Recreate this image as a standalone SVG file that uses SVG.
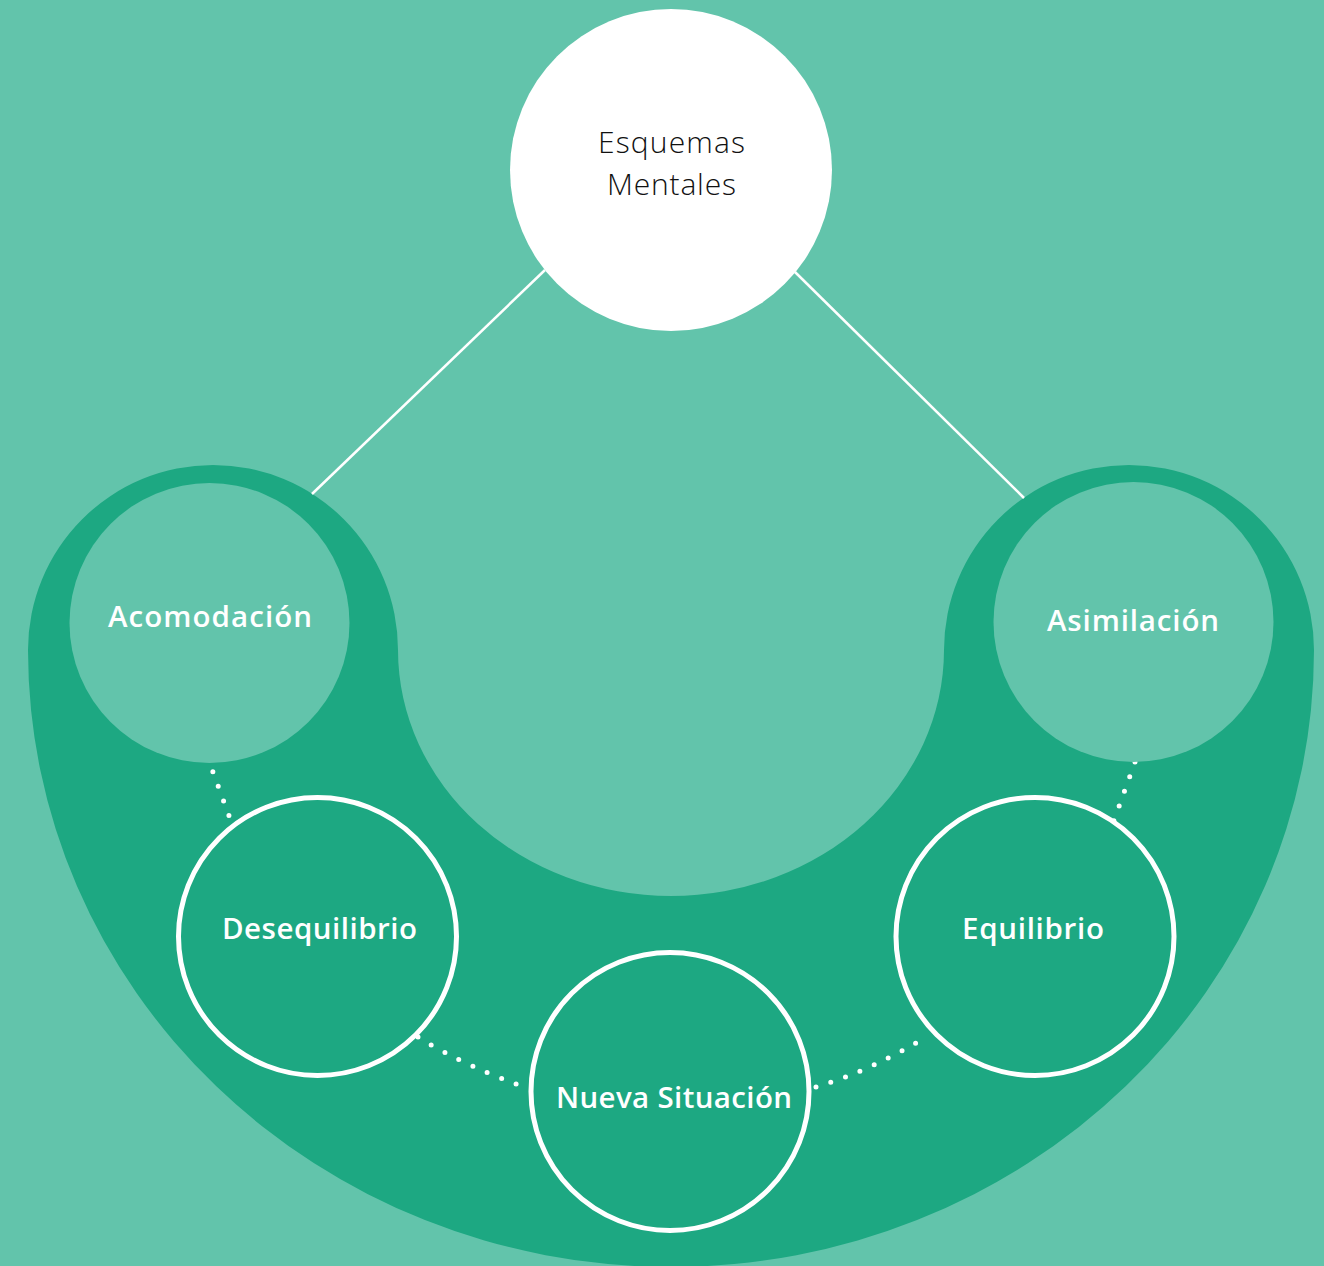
<svg xmlns="http://www.w3.org/2000/svg" width="1324" height="1266" viewBox="0 0 1324 1266">
  <style>
    .bg { fill: #62C4AB; }
    .band { fill: #1DA882; }
    .light { fill: #62C4AB; }
    .ring { fill: #1DA882; stroke: #FFFFFF; stroke-width: 5; }
    .solid { stroke: #FFFFFF; stroke-width: 2.5; fill: none; }
    .dots { stroke: #FFFFFF; stroke-width: 5; fill: none; stroke-linecap: round; stroke-dasharray: 0 15.6; }
    .lbl { font-family: "Open Sans", "Noto Sans", "Liberation Sans", sans-serif; font-weight: 600; font-size: 29.5px; fill: #FFFFFF; text-anchor: middle; }
    .top { font-family: "Open Sans", "Noto Sans", "Liberation Sans", sans-serif; font-weight: 300; font-size: 30px; fill: #111111; text-anchor: middle; }
  </style>
  <rect class="bg" x="0" y="0" width="1324" height="1266"/>
  <path id="band" class="band" d="M 28 650 A 185 185 0 0 1 398 650 A 273 246 0 0 0 944 650 A 185 185 0 0 1 1314 650 A 643 617 0 0 1 28 650 Z"/>
  <g id="connectors">
    <line class="solid" x1="545" y1="270" x2="312" y2="494"/>
    <line class="solid" x1="795" y1="272" x2="1024" y2="498"/>
    <path class="dots" d="M 207.5 757 L 232 824"/>
    <path class="dots" d="M 1135 762 L 1112 826"/>
    <path class="dots" d="M 418 1037 Q 464 1066 530 1089"/>
    <path class="dots" d="M 816 1087 Q 870 1071 926 1037"/>
  </g>
  <g id="esquemas">
    <circle cx="671" cy="170" r="161" fill="#FFFFFF"/>
    <text class="top" x="671.5" y="153" textLength="147">Esquemas</text>
    <text class="top" x="671.5" y="195" textLength="129">Mentales</text>
  </g>
  <g id="acomodacion">
    <circle class="light" cx="209.5" cy="623" r="140"/>
    <text class="lbl" x="210" y="627" textLength="204">Acomodación</text>
  </g>
  <g id="asimilacion">
    <circle class="light" cx="1133.5" cy="622" r="140"/>
    <text class="lbl" x="1133" y="631" textLength="172">Asimilación</text>
  </g>
  <g id="desequilibrio">
    <circle class="ring" cx="317.5" cy="936.5" r="139"/>
    <text class="lbl" x="319.5" y="939" textLength="195">Desequilibrio</text>
  </g>
  <g id="equilibrio">
    <circle class="ring" cx="1035" cy="936.5" r="139"/>
    <text class="lbl" x="1033" y="939" textLength="142">Equilibrio</text>
  </g>
  <g id="nueva-situacion">
    <circle class="ring" cx="670" cy="1091.5" r="139"/>
    <text class="lbl" x="674" y="1108" textLength="236">Nueva Situación</text>
  </g>
</svg>
